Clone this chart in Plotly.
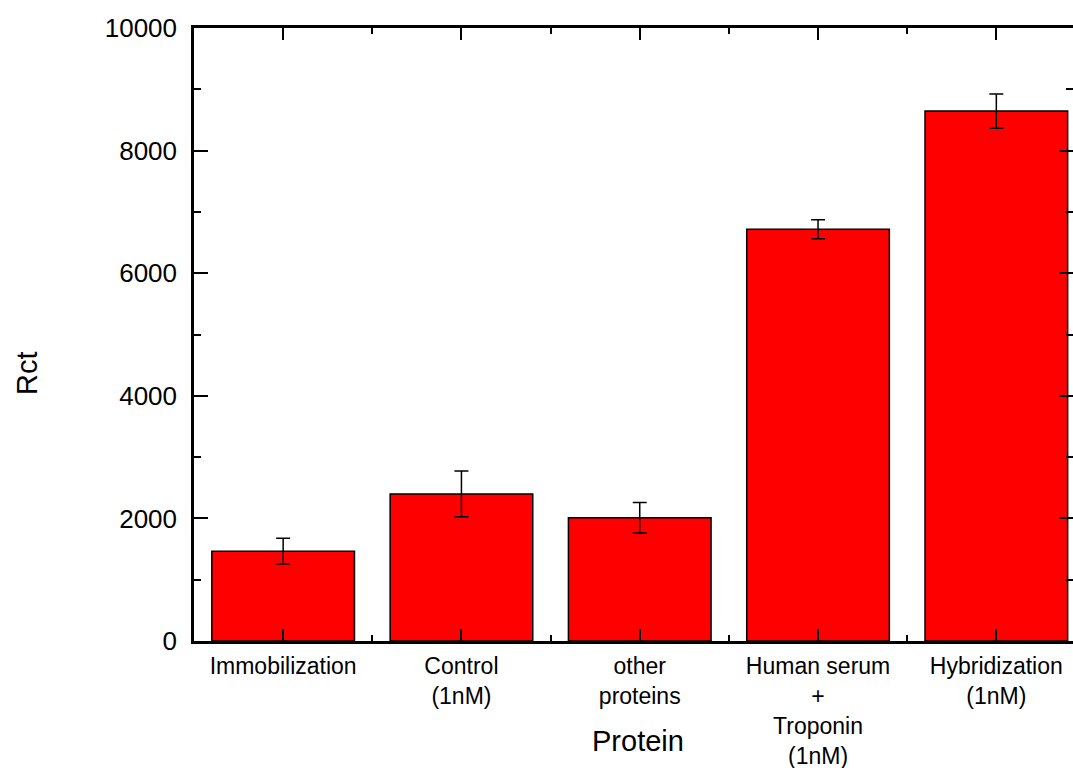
import plotly.graph_objects as go

categories = ["Immobilization", "Control<br>(1nM)", "other<br>proteins",
              "Human serum<br>+<br>Troponin<br>(1nM)", "Hybridization<br>(1nM)"]
rct_values = [1465, 2400, 2010, 6715, 8645]
rct_errors = [210, 375, 250, 155, 280]
x_pos = [0, 1, 2, 3, 4]
y_tick_vals = [0, 2000, 4000, 6000, 8000, 10000]
y_tick_text = ["0", "2000", "4000", "6000", "8000", "10000"]

fig = go.Figure()
fig.add_trace(go.Bar(
    x=x_pos, y=rct_values, width=0.8,
    marker=dict(color="#FF0000", line=dict(color="black", width=1.5)),
    error_y=dict(type="data", array=rct_errors, visible=True,
                 color="black", thickness=1.5, width=7),
))

font_family = "Liberation Sans, Arial, sans-serif"

fig.update_layout(
    width=1073, height=768,
    margin=dict(l=194, r=0, t=28, b=127),
    plot_bgcolor="white", paper_bgcolor="white",
    showlegend=False,
    font=dict(family=font_family, color="black"),
    xaxis=dict(
        range=[-0.5, 4.43], tickmode="array", tickvals=x_pos, ticktext=categories,
        ticks="inside", ticklen=12, tickwidth=2, tickcolor="black",
        showline=True, linecolor="black", linewidth=2.5, mirror="ticks",
        showgrid=False, zeroline=False, automargin=False,
        tickfont=dict(size=23, family=font_family, color="black"),
        ticklabelstandoff=3,
        minor=dict(tickmode="array", tickvals=[0.5, 1.5, 2.5, 3.5],
                   ticks="inside", ticklen=6, tickwidth=2, tickcolor="black"),
    ),
    yaxis=dict(
        range=[0, 10000], tickmode="array", tickvals=y_tick_vals, ticktext=y_tick_text,
        ticks="inside", ticklen=14, tickwidth=2, tickcolor="black",
        showline=True, linecolor="black", linewidth=2.5, mirror="ticks",
        showgrid=False, zeroline=False, automargin=False,
        tickfont=dict(size=26, family=font_family, color="black"),
        ticklabelstandoff=9,
        minor=dict(tickmode="array", tickvals=[1000, 3000, 5000, 7000, 9000],
                   ticks="inside", ticklen=7, tickwidth=2, tickcolor="black"),
    ),
    annotations=[
        dict(text="Protein", xref="paper", yref="paper", x=(638 - 194) / 879,
             y=-(741 - 641) / 613, xanchor="center", yanchor="middle",
             showarrow=False, font=dict(size=29, family=font_family, color="black")),
        dict(text="Rct", xref="paper", yref="paper", x=-(194 - 27) / 879,
             y=(641 - 373) / 613, xanchor="center", yanchor="middle", textangle=-90,
             showarrow=False, font=dict(size=29, family=font_family, color="black")),
    ],
)

fig.write_html("out.html")
